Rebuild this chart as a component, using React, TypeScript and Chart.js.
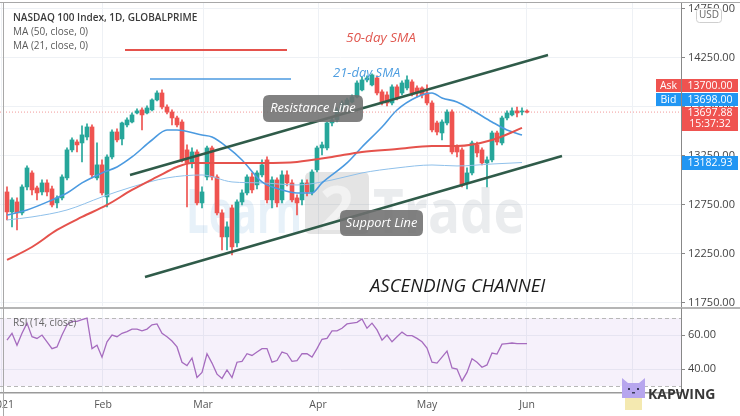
import React, { useEffect, useRef } from 'react';
import { Chart, registerables } from 'chart.js';

Chart.register(...registerables);

// ---- data (bar index 0 = 4 Jan 2021) ----
const candleOpen = [12883,12679,12781,12669,12934,13077,12924,12883,12975,12914,12771,12822,13026,13312,13393,13383,13444,13546,13026,13159,12832,13240,13495,13424,13567,13597,13689,13720,13689,13720,13822,13893,13750,13699,13638,13597,13312,13179,13291,12771,13036,13332,13036,12669,12424,12720,12363,12781,12873,13036,12955,13057,13210,12802,13006,12802,13057,12975,12822,12802,12975,12883,13108,13332,13332,13587,13618,13720,13771,13801,13852,13924,14026,13975,14046,13904,13873,13791,13955,13893,13944,14006,13944,13944,13893,13791,13587,13485,13587,13699,13342,13312,12975,13077,13363,13312,13179,13210,13485,13383,13638,13669,13710,13699,13705];
const candleHigh = [12934,12822,12822,12955,13149,13098,12944,13006,13006,12944,12842,13057,13332,13434,13414,13557,13577,13567,13383,13210,13261,13516,13526,13597,13638,13689,13730,13740,13761,13832,13914,13924,13771,13720,13658,13618,13363,13332,13312,12934,13352,13352,13057,12700,12577,12750,12802,12904,13057,13077,13098,13210,13240,13036,13026,13098,13098,13006,12853,13006,13006,13108,13352,13393,13597,13638,13740,13812,13842,13873,14016,14057,14067,14087,14067,13924,13904,13975,13975,14016,14067,14026,13965,13955,13975,13812,13607,13618,13720,13720,13363,13332,13128,13403,13393,13332,13240,13505,13505,13658,13710,13740,13750,13740,13720];
const candleLow = [12598,12526,12495,12648,12904,12853,12802,12853,12843,12730,12720,12802,13006,13291,13291,13189,13414,13026,13006,12853,12730,13220,13393,13363,13546,13587,13679,13516,13679,13710,13812,13730,13679,13567,13546,13189,12730,13128,12750,12720,13006,13006,12648,12292,12292,12240,12322,12750,12853,12873,12914,13036,12771,12720,12730,12771,12944,12781,12648,12750,12843,12853,13087,13261,13312,13557,13597,13710,13750,13791,13842,13914,14006,13965,13873,13771,13761,13771,13822,13873,13924,13863,13852,13842,13771,13495,13465,13414,13567,13271,13240,12934,12914,13057,13240,13159,12934,13189,13363,13363,13618,13658,13648,13669,13689];
const candleClose = [12679,12802,12669,12934,13128,12904,12873,12975,12883,12750,12822,13036,13312,13414,13363,13465,13546,13057,13159,12873,13240,13495,13414,13587,13618,13669,13710,13669,13740,13822,13893,13750,13699,13638,13567,13210,13179,13291,12771,12883,13332,13036,12669,12424,12526,12322,12781,12873,13036,12904,13077,13159,12802,13006,12771,13057,12975,12802,12771,12975,12883,13087,13332,13363,13587,13618,13720,13791,13822,13852,13995,14026,14046,14077,13893,13801,13791,13955,13842,13995,14026,13893,13893,13873,13791,13516,13495,13597,13699,13291,13291,12955,13077,13383,13281,13179,13210,13485,13393,13638,13689,13710,13689,13705,13698];

const rsiValues = [57,61,54,61,67,59,58,60,56,52,53,60,66,68,68,69,70,52,54,47,56,60,59,61,62,63.5,63.5,62.5,63.5,66,66.5,61,59,56.5,53,44,42,46.5,35,38,49,43.5,37,34.5,39.5,35,44,44.5,49,48,50,52,52,44,45,50,49,44.5,45,49,49,47,52,57.5,58,62.5,62.5,64,66.5,67,67.5,69.5,64,67,63,57,60,56,59,61.7,59.6,59.6,58,56,52.3,44,43.5,47,50.6,40.6,40,33,38,46,44,41,42.4,49.4,48.8,54.6,55,55.3,55,55,55];

const ma50Index = [0,5,10,15,20,25,30,34,37,41,45,51,58,65,71,78,85,90,97,103];
const ma50Value = [12189,12321,12495,12628,12750,12903,13036,13138,13179,13179,13179,13179,13189,13240,13291,13321,13352,13352,13413,13536];
const ma21Index = [0,4,9,12,15,19,22,25,29,32,34,39,41,44,47,51,55,58,61,63,68,71,75,78,82,85,87,90,93,97,100,103];
const ma21Value = [12648,12699,12801,12872,12975,13077,13138,13240,13413,13515,13515,13464,13444,13342,13209,12985,12903,12872,12872,12975,13179,13342,13546,13719,13852,13893,13842,13801,13719,13597,13515,13464];
const maSlowIndex = [0,5,12,19,25,32,39,45,51,58,65,71,78,85,90,97,103];
const maSlowValue = [12597,12628,12699,12832,12934,13026,13056,12985,12975,12954,13005,13077,13128,13158,13148,13168,13183];

const resistanceIndex = [24.6, 108.2];
const resistanceValue = [13056, 14281];
const supportIndex = [27.6, 111];
const supportValue = [12015, 13250];
const sma50KeyIndex = [23.6, 56];
const sma50KeyValue = [14332, 14332];
const sma21KeyIndex = [28.6, 56.8];
const sma21KeyValue = [14036, 14036];

const priceTicks = [11750, 12250, 12750, 13250, 13750, 14250, 14750];
const rsiTicks = [40, 60];
const monthTickIndex = [-1, 19.2, 39.2, 62.2, 84, 104, 125.2];
const monthTickLabels = ['2021', 'Feb', 'Mar', 'Apr', 'May', 'Jun', 'Jul'];

const lastPrice = 13697.88;
const askPrice = 13700.0;
const bidPrice = 13698.0;
const slowMaLast = 13182.93;
const countdown = '15:37:32';

// ---- style ----
const FONT = '"Open Sans", "DejaVu Sans", sans-serif';
const UP = '#26a69a';
const DOWN = '#ef5350';
const GRID = '#eef1f5';
const X_MIN = -1.4;
const X_MAX = 134.8;

function pts(xs: number[], ys: number[]) {
  return xs.map((x, k) => ({ x, y: ys[k] }));
}

function rrect(ctx: CanvasRenderingContext2D, x: number, y: number, w: number, h: number, r: number) {
  ctx.beginPath();
  ctx.moveTo(x + r, y);
  ctx.lineTo(x + w - r, y);
  ctx.quadraticCurveTo(x + w, y, x + w, y + r);
  ctx.lineTo(x + w, y + h - r);
  ctx.quadraticCurveTo(x + w, y + h, x + w - r, y + h);
  ctx.lineTo(x + r, y + h);
  ctx.quadraticCurveTo(x, y + h, x, y + h - r);
  ctx.lineTo(x, y + r);
  ctx.quadraticCurveTo(x, y, x + r, y);
  ctx.closePath();
}

function fitText(ctx: CanvasRenderingContext2D, text: string, x: number, base: number, width: number) {
  const w = ctx.measureText(text).width;
  ctx.save();
  ctx.translate(x, base);
  ctx.scale(width / w, 1);
  ctx.fillText(text, 0, 0);
  ctx.restore();
}

const mainPlugin = {
  id: 'mainDecor',
  beforeDatasetsDraw(chart: any) {
    const ctx: CanvasRenderingContext2D = chart.ctx;
    ctx.save();
    ctx.textAlign = 'left';
    ctx.textBaseline = 'alphabetic';
    ctx.font = `bold 60px ${FONT}`;
    ctx.fillStyle = 'rgba(120,175,222,0.18)';
    fitText(ctx, 'Learn', 186, 233, 116);
    rrect(ctx, 305, 172, 64, 62, 6);
    ctx.fillStyle = 'rgba(90,90,90,0.16)';
    ctx.fill();
    ctx.fillStyle = 'rgba(255,255,255,0.5)';
    fitText(ctx, '2', 320, 230, 34);
    ctx.fillStyle = 'rgba(140,150,160,0.18)';
    fitText(ctx, 'Trade', 373, 233, 152);
    ctx.restore();
  },
  afterDatasetsDraw(chart: any) {
    const ctx: CanvasRenderingContext2D = chart.ctx;
    ctx.save();
    ctx.textBaseline = 'middle';
    ctx.textAlign = 'left';
    ctx.font = `italic 13.5px ${FONT}`;
    ctx.fillStyle = '#e0574f';
    ctx.fillText('50-day SMA', 346, 38);
    ctx.font = `italic 13px ${FONT}`;
    ctx.fillStyle = '#4d9de0';
    ctx.fillText('21-day SMA', 333, 73);

    rrect(ctx, 263, 95, 100, 27, 6);
    ctx.fillStyle = 'rgba(112,112,112,0.88)';
    ctx.fill();
    rrect(ctx, 340, 210, 83, 26, 6);
    ctx.fill();
    ctx.fillStyle = '#ffffff';
    ctx.textAlign = 'center';
    ctx.font = `italic 12.8px ${FONT}`;
    ctx.fillText('Resistance Line', 313, 108.5);
    ctx.fillText('Support Line', 381.5, 223.5);

    ctx.textAlign = 'left';
    ctx.fillStyle = '#1c1c1c';
    ctx.font = `italic 18.5px ${FONT}`;
    ctx.fillText('ASCENDING CHANNEI', 370, 287);
    ctx.restore();
  },
  afterDraw(chart: any) {
    const ctx: CanvasRenderingContext2D = chart.ctx;
    const ys = chart.scales.y;
    ctx.save();
    ctx.textBaseline = 'middle';
    ctx.textAlign = 'left';
    ctx.font = `600 10px ${FONT}`;
    ctx.fillStyle = '#3b3b3b';
    ctx.fillText('NASDAQ 100 Index, 1D, GLOBALPRIME', 13, 18);
    ctx.font = `10px ${FONT}`;
    ctx.fillStyle = '#5a5a5a';
    ctx.fillText('MA (50, close, 0)', 13, 32);
    ctx.fillText('MA (21, close, 0)', 13, 46);

    // frame
    ctx.strokeStyle = '#a8a8a8';
    ctx.lineWidth = 1;
    ctx.beginPath();
    ctx.moveTo(0, 2.5);
    ctx.lineTo(740, 2.5);
    ctx.moveTo(3.5, 2.5);
    ctx.lineTo(3.5, 307);
    ctx.stroke();

    // USD box
    ctx.fillStyle = '#ffffff';
    rrect(ctx, 696.5, 8.5, 25, 14, 3);
    ctx.fill();
    ctx.strokeStyle = '#cfcfcf';
    ctx.stroke();
    ctx.fillStyle = '#666';
    ctx.font = `10px ${FONT}`;
    ctx.textAlign = 'center';
    ctx.fillText('USD', 709, 15.5);

    // price tags
    const tagX = 682;
    const tagW = 56;
    const lastY = ys.getPixelForValue(lastPrice);
    const top = Math.round(lastY) - 5;
    ctx.font = `10.5px ${FONT}`;
    const box = (x: number, y: number, w: number, h: number, bg: string) => {
      ctx.fillStyle = bg;
      ctx.fillRect(x, y, w, h);
    };
    box(656, top - 28, 25, 13, DOWN);
    box(tagX, top - 28, tagW, 13, DOWN);
    box(656, top - 14, 25, 13, '#2196f3');
    box(tagX, top - 14, tagW, 13, '#2196f3');
    box(tagX, top, tagW, 24, DOWN);
    const smaY = Math.round(ys.getPixelForValue(slowMaLast));
    box(tagX, smaY - 7, tagW, 14, '#2196f3');
    ctx.fillStyle = '#ffffff';
    ctx.fillText('Ask', 668.5, top - 21);
    ctx.fillText(askPrice.toFixed(2), tagX + tagW / 2, top - 21);
    ctx.fillText('Bid', 668.5, top - 7);
    ctx.fillText(bidPrice.toFixed(2), tagX + tagW / 2, top - 7);
    ctx.fillText(lastPrice.toFixed(2), tagX + tagW / 2, top + 6.5);
    ctx.fillText(countdown, tagX + tagW / 2, top + 17.5);
    ctx.fillText(slowMaLast.toFixed(2), tagX + tagW / 2, smaY);
    ctx.restore();
  },
};

const rsiPlugin = {
  id: 'rsiDecor',
  beforeDatasetsDraw(chart: any) {
    const ctx: CanvasRenderingContext2D = chart.ctx;
    const ys = chart.scales.y;
    const a = chart.chartArea;
    const y70 = ys.getPixelForValue(70);
    const y30 = ys.getPixelForValue(30);
    ctx.save();
    ctx.fillStyle = 'rgba(160,100,210,0.09)';
    ctx.fillRect(a.left, y70, a.right - a.left, y30 - y70);
    ctx.strokeStyle = '#b8b8b8';
    ctx.lineWidth = 1;
    ctx.setLineDash([4, 3]);
    ctx.beginPath();
    ctx.moveTo(a.left, Math.round(y70) + 0.5);
    ctx.lineTo(a.right, Math.round(y70) + 0.5);
    ctx.moveTo(a.left, Math.round(y30) + 0.5);
    ctx.lineTo(a.right, Math.round(y30) + 0.5);
    ctx.stroke();
    ctx.restore();
  },
  afterDraw(chart: any) {
    const ctx: CanvasRenderingContext2D = chart.ctx;
    ctx.save();
    ctx.strokeStyle = '#9c9c9c';
    ctx.lineWidth = 1.5;
    ctx.beginPath();
    ctx.moveTo(0, 1);
    ctx.lineTo(740, 1);
    ctx.stroke();
    ctx.strokeStyle = '#a8a8a8';
    ctx.lineWidth = 1;
    ctx.beginPath();
    ctx.moveTo(3.5, 0);
    ctx.lineTo(3.5, 109);
    ctx.stroke();

    ctx.textBaseline = 'middle';
    ctx.textAlign = 'left';
    ctx.font = `10px ${FONT}`;
    ctx.fillStyle = '#666';
    ctx.fillText('RSI (14, close)', 13, 16);

    // Kapwing mark
    const ox = 622;
    const oy = 71;
    ctx.fillStyle = '#f4e9b0';
    ctx.fillRect(ox + 3, oy + 19, 17, 13);
    ctx.fillStyle = '#b7a6ee';
    ctx.beginPath();
    ctx.moveTo(ox, oy + 20);
    ctx.lineTo(ox, oy);
    ctx.lineTo(ox + 6, oy + 5);
    ctx.lineTo(ox + 17, oy + 5);
    ctx.lineTo(ox + 23, oy);
    ctx.lineTo(ox + 23, oy + 20);
    ctx.closePath();
    ctx.fill();
    ctx.fillStyle = '#3b3b5a';
    ctx.fillRect(ox + 6, oy + 10, 2, 2);
    ctx.fillRect(ox + 15, oy + 10, 2, 2);
    ctx.fillRect(ox + 10, oy + 14, 3, 1.5);
    ctx.font = `bold 14px ${FONT}`;
    ctx.fillStyle = '#383838';
    ctx.fillText('KAPWING', 648, 88);
    ctx.restore();
  },
};

export default function App() {
  const mainRef = useRef<HTMLCanvasElement>(null);
  const rsiRef = useRef<HTMLCanvasElement>(null);

  useEffect(() => {
    const candleColors = candleClose.map((c, i) => (c >= candleOpen[i] ? UP : DOWN));
    const bodies = candleOpen.map((o, i) => ({ x: i, y: [o, candleClose[i]] }));
    const wicks = candleLow.map((l, i) => ({ x: i, y: [l, candleHigh[i]] }));
    const lineBase = { type: 'line', pointRadius: 0, fill: false };

    const main = new Chart(mainRef.current as HTMLCanvasElement, {
      type: 'bar',
      data: {
        datasets: [
          { ...lineBase, data: pts(resistanceIndex, resistanceValue), borderColor: '#2f5b49', borderWidth: 2.5, order: -3 },
          { ...lineBase, data: pts(supportIndex, supportValue), borderColor: '#2f5b49', borderWidth: 2.5, order: -3 },
          { ...lineBase, data: pts(ma50Index, ma50Value), borderColor: '#e5524c', borderWidth: 2, cubicInterpolationMode: 'monotone', order: -2 },
          { ...lineBase, data: pts(ma21Index, ma21Value), borderColor: '#4b9ae0', borderWidth: 1.6, cubicInterpolationMode: 'monotone', order: -2 },
          { ...lineBase, data: pts(maSlowIndex, maSlowValue), borderColor: '#8fc0ea', borderWidth: 1, cubicInterpolationMode: 'monotone', order: -2 },
          { ...lineBase, data: pts(sma50KeyIndex, sma50KeyValue), borderColor: '#e5524c', borderWidth: 2, order: -2 },
          { ...lineBase, data: pts(sma21KeyIndex, sma21KeyValue), borderColor: '#4b9ae0', borderWidth: 1.5, order: -2 },
          { ...lineBase, data: pts([X_MIN, X_MAX], [lastPrice, lastPrice]), borderColor: '#f29a9a', borderWidth: 1, borderDash: [1, 2], order: 5 },
          { type: 'bar', data: bodies, backgroundColor: candleColors, barThickness: 4, grouped: false, minBarLength: 1, order: 0 },
          { type: 'bar', data: wicks, backgroundColor: candleColors, barThickness: 1, grouped: false, order: 1 },
        ] as any,
      },
      options: {
        responsive: false,
        animation: false,
        devicePixelRatio: 1,
        layout: { padding: { top: 3, bottom: 1, left: 0, right: 0 } },
        plugins: { legend: { display: false }, tooltip: { enabled: false } },
        scales: {
          x: {
            type: 'linear',
            min: X_MIN,
            max: X_MAX,
            offset: false,
            afterBuildTicks: (s: any) => { s.ticks = monthTickIndex.map((v) => ({ value: v })); },
            ticks: { display: false },
            grid: { color: GRID, offset: false, drawTicks: false },
            border: { display: false },
            afterFit: (s: any) => { s.height = 0; s.paddingLeft = 0; s.paddingRight = 0; },
          },
          y: {
            position: 'right',
            min: 11719,
            max: 14811,
            afterBuildTicks: (s: any) => { s.ticks = priceTicks.map((v) => ({ value: v })); },
            ticks: { callback: (v: any) => Number(v).toFixed(2), color: '#444', font: { size: 11, family: FONT }, padding: 3 },
            grid: { color: GRID, tickColor: '#888', tickLength: 4 },
            border: { color: '#888' },
            afterFit: (s: any) => { s.width = 59; s.paddingTop = 0; s.paddingBottom = 0; },
          },
        },
      } as any,
      plugins: [mainPlugin],
    } as any);

    const rsi = new Chart(rsiRef.current as HTMLCanvasElement, {
      type: 'line',
      data: {
        datasets: [
          { data: rsiValues.map((v, i) => ({ x: i, y: v })), borderColor: '#a66cbf', borderWidth: 1.3, pointRadius: 0, fill: false },
        ],
      },
      options: {
        responsive: false,
        animation: false,
        devicePixelRatio: 1,
        layout: { padding: { top: 1, bottom: 0, left: 0, right: 0 } },
        plugins: { legend: { display: false }, tooltip: { enabled: false } },
        scales: {
          x: {
            type: 'linear',
            min: X_MIN,
            max: X_MAX,
            offset: false,
            afterBuildTicks: (s: any) => { s.ticks = monthTickIndex.map((v) => ({ value: v })); },
            ticks: {
              autoSkip: false,
              maxRotation: 0,
              minRotation: 0,
              padding: 6,
              color: '#555',
              font: { size: 10.5, family: FONT },
              callback: (v: any) => {
                const k = monthTickIndex.indexOf(Number(v));
                return k >= 0 ? monthTickLabels[k] : '';
              },
            },
            grid: { color: GRID, drawTicks: false, offset: false },
            border: { color: '#9a9a9a', width: 1.5 },
            afterFit: (s: any) => { s.height = 23; s.paddingLeft = 0; s.paddingRight = 0; },
          },
          y: {
            position: 'right',
            min: 25.9,
            max: 75.9,
            afterBuildTicks: (s: any) => { s.ticks = rsiTicks.map((v) => ({ value: v })); },
            ticks: { callback: (v: any) => Number(v).toFixed(2), color: '#444', font: { size: 11, family: FONT }, padding: 3 },
            grid: { color: GRID, tickColor: '#888', tickLength: 4 },
            border: { color: '#888' },
            afterFit: (s: any) => { s.width = 59; s.paddingTop = 0; s.paddingBottom = 0; },
          },
        },
      } as any,
      plugins: [rsiPlugin],
    } as any);

    return () => {
      main.destroy();
      rsi.destroy();
    };
  }, []);

  return (
    <div style={{ position: 'fixed', left: 0, top: 0, width: 740, height: 416, background: '#ffffff', overflow: 'hidden' }}>
      <canvas ref={mainRef} width={740} height={307} style={{ position: 'absolute', left: 0, top: 0 }} />
      <canvas ref={rsiRef} width={740} height={109} style={{ position: 'absolute', left: 0, top: 307 }} />
    </div>
  );
}
